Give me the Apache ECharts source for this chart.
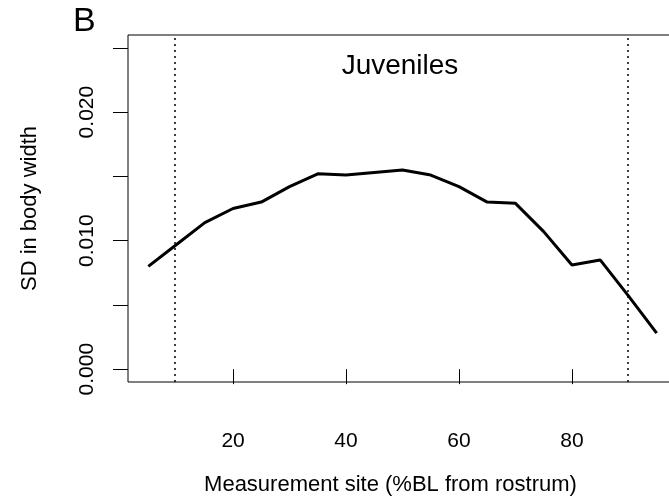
<!DOCTYPE html>
<html>
<head>
<meta charset="utf-8">
<script src="https://cdn.jsdelivr.net/npm/echarts@6/dist/echarts.min.js"></script>
<style>html,body{margin:0;padding:0;background:#fff;}#c{width:669px;height:501px;}</style>
</head>
<body>
<div id="c"></div>
<script>
var sites = [5,10,15,20,25,30,35,40,45,50,55,60,65,70,75,80,85,90,95];
var sdValues = [0.0080,0.0097,0.0114,0.0125,0.0130,0.0142,0.0152,0.0151,0.0153,0.0155,0.0151,0.0142,0.0130,0.0129,0.0107,0.0081,0.0085,0.0057,0.0028];
var xTicks = [20,40,60,80];
var yTicks = [0,0.005,0.010,0.015,0.020,0.025];
var yLabels = [0,0.010,0.020];
var refLines = [9.7,89.9];
var panelLetter = 'B';
var groupLabel = 'Juveniles';
var xTitle = 'Measurement site (%BL from rostrum)';
var yTitle = 'SD in body width';

var FONT = 'Liberation Sans, Arial, sans-serif';
var chart = echarts.init(document.getElementById('c'), null, {renderer:'canvas'});
var data = sites.map(function(s,i){return [s, sdValues[i]];});
chart.setOption({
  animation:false,
  backgroundColor:'#fff',
  grid:{left:128, top:35, width:549, height:347, outerBoundsMode:'none', containLabel:false,
    show:true, borderColor:'#000', borderWidth:1, backgroundColor:'transparent'},
  title:[
    {text:panelLetter, left:68, top:0, textStyle:{fontFamily:FONT, fontSize:34, fontWeight:'normal', color:'#000'}},
    {text:groupLabel, left:395, top:47, textAlign:'center', textStyle:{fontFamily:FONT, fontSize:28, fontWeight:'normal', color:'#000'}}
  ],
  xAxis:{type:'value', min:1.4, max:98.6,
    name:xTitle, nameLocation:'middle', nameGap:92,
    nameTextStyle:{fontFamily:FONT, fontSize:22, color:'#000', padding:[0,24,0,0]},
    axisLine:{show:false},
    splitLine:{show:false},
    axisTick:{show:true, length:15, customValues:xTicks, lineStyle:{color:'#000', width:1}},
    axisLabel:{customValues:xTicks, margin:49, fontFamily:FONT, fontSize:21, color:'#000'}
  },
  yAxis:{type:'value', min:-0.001, max:0.026,
    name:yTitle, nameLocation:'middle', nameGap:87, nameRotate:90,
    nameTextStyle:{fontFamily:FONT, fontSize:22, color:'#000'},
    axisLine:{show:false},
    splitLine:{show:false},
    axisTick:{show:true, length:15, customValues:yTicks, lineStyle:{color:'#000', width:1}},
    axisLabel:{customValues:yLabels, rotate:90, margin:30, fontFamily:FONT, fontSize:21, color:'#000',
      formatter:function(v){return v.toFixed(3);}}
  },
  series:[{
    type:'line', data:data, symbol:'none', silent:true,
    lineStyle:{color:'#000', width:3},
    markLine:{silent:true, symbol:'none', label:{show:false},
      lineStyle:{color:'#000', width:1.5, type:[2,4]},
      data:refLines.map(function(v){return {xAxis:v};})}
  }]
});
</script>
</body>
</html>
